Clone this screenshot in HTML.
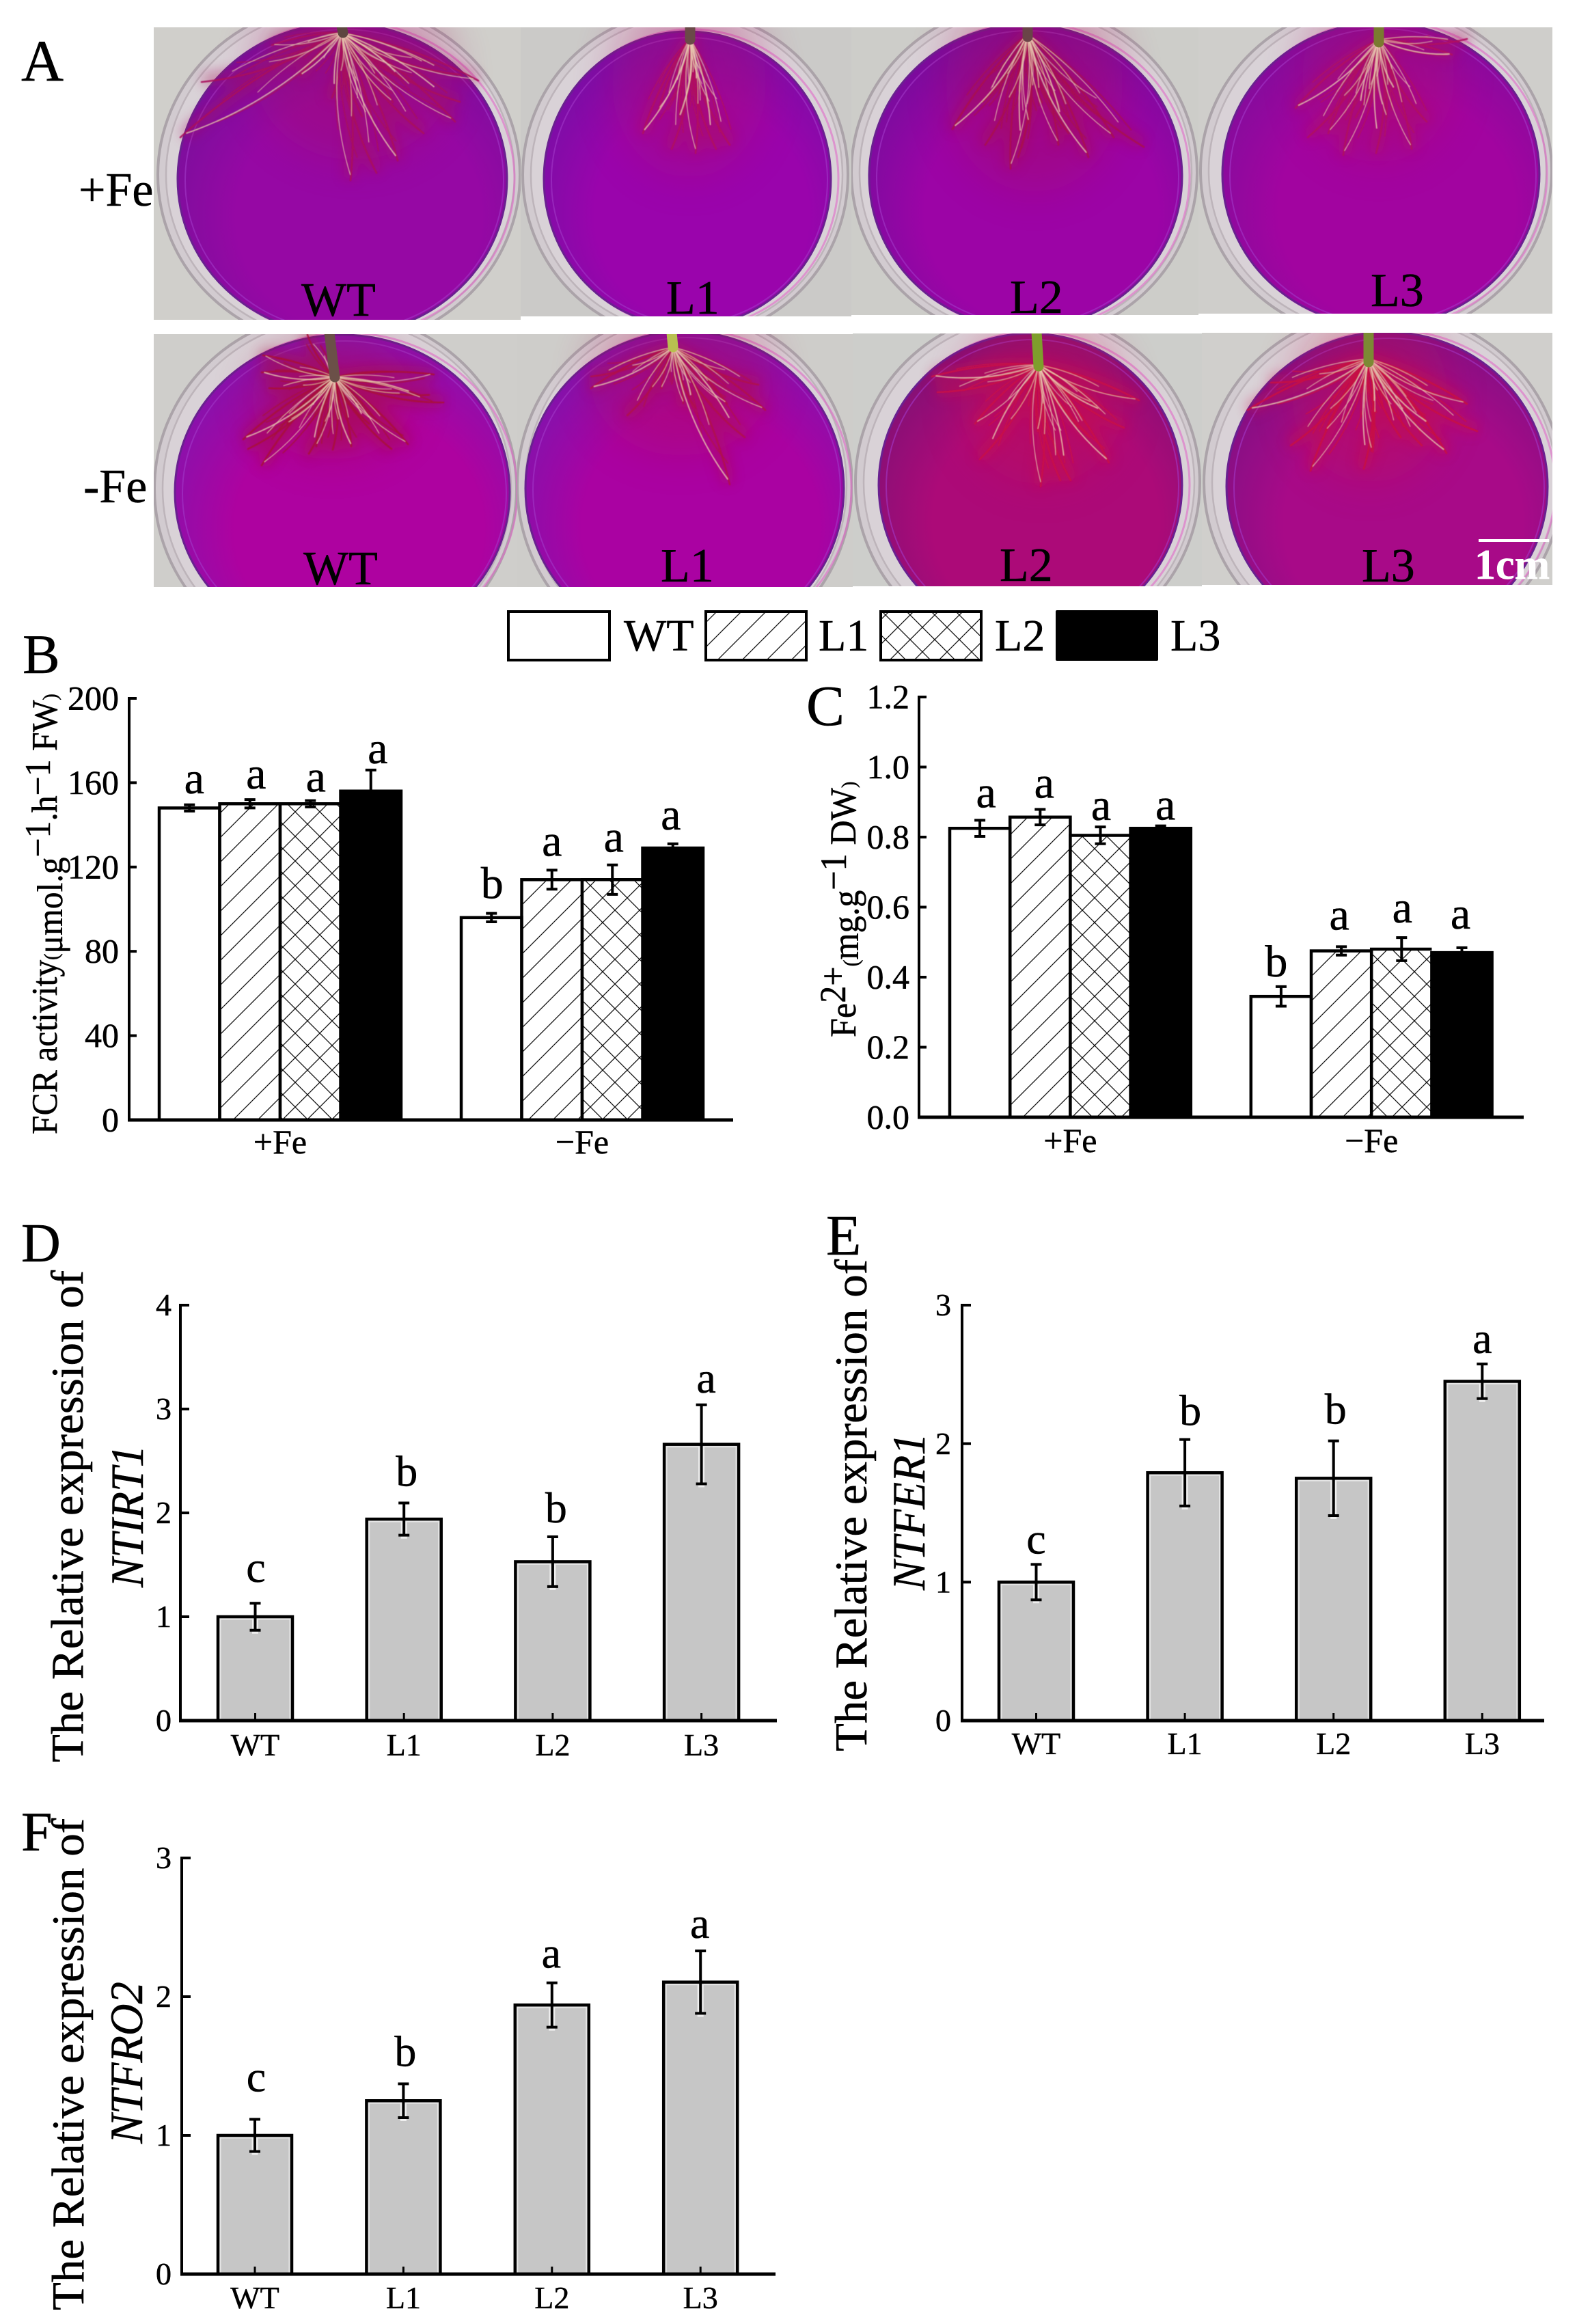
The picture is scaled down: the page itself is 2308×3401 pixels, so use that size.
<!DOCTYPE html>
<html lang="en">
<head>
<meta charset="utf-8">
<title>Root ferric reductase assay and iron gene expression</title>
<style>
html,body{margin:0;padding:0;background:#fff;}
svg{display:block;}
text{font-family:"Liberation Serif",serif;fill:#000;stroke:#000;stroke-width:0.5px;}
</style>
</head>
<body>
<svg id="figure" xmlns="http://www.w3.org/2000/svg" width="2308" height="3401" viewBox="0 0 2308 3401">
  <defs>
    <pattern id="hatch-single" patternUnits="userSpaceOnUse" width="36" height="36">
      <path d="M-4 40 L40 -4 M-4 4 L4 -4 M32 40 L40 32" stroke="#111" stroke-width="1.3" fill="none"/>
    </pattern>
    <pattern id="hatch-cross" patternUnits="userSpaceOnUse" width="36" height="36">
      <rect width="36" height="36" fill="#fff"/>
      <path d="M-4 40 L40 -4 M-4 4 L4 -4 M32 40 L40 32 M-4 -4 L40 40 M-4 32 L4 40 M32 -4 L40 4" stroke="#111" stroke-width="1.3" fill="none"/>
    </pattern>
    <filter id="haze" x="-30%" y="-30%" width="160%" height="160%"><feGaussianBlur stdDeviation="9"/></filter>
    <filter id="glow" x="-50%" y="-50%" width="200%" height="200%"><feGaussianBlur stdDeviation="30"/></filter>
    <filter id="soft" x="-10%" y="-10%" width="120%" height="120%"><feGaussianBlur stdDeviation="0.6"/></filter>
  </defs>

  <rect width="2308" height="3401" fill="#fff"/>
  <g id="photos"></g>

  <g font-size="70">
    <text x="31" y="118" font-size="86">A</text>
    <text x="115" y="301">+Fe</text>
    <text x="122" y="735">-Fe</text>
    <text x="441" y="462">WT</text>
    <text x="975" y="459">L1</text>
    <text x="1478" y="458">L2</text>
    <text x="2006" y="448">L3</text>
    <text x="444" y="855">WT</text>
    <text x="967" y="851">L1</text>
    <text x="1463" y="850">L2</text>
    <text x="1993" y="851">L3</text>
    <rect x="2164" y="789" width="103" height="4" fill="#fff"/>
    <text x="2158" y="847" font-size="62" font-weight="bold" style="fill:#fff;stroke:#fff">1cm</text>
  </g>

  <g font-size="66">
    <rect x="744" y="895" width="148" height="71" fill="#fff" stroke="#000" stroke-width="4"/>
    <text x="913" y="952">WT</text>
    <rect x="1033" y="895" width="147" height="71" fill="url(#hatch-single)" stroke="#000" stroke-width="4"/>
    <text x="1198" y="952">L1</text>
    <rect x="1289" y="895" width="147" height="71" fill="url(#hatch-cross)" stroke="#000" stroke-width="4"/>
    <text x="1456" y="952">L2</text>
    <rect x="1545" y="893" width="150" height="74" rx="2" fill="#000"/>
    <text x="1713" y="952">L3</text>
  </g>

  <g>
    <text x="33" y="985" font-size="82">B</text>
    <text x="1180" y="1061" font-size="84">C</text>
    <text x="31" y="1846" font-size="80">D</text>
    <text x="1209" y="1836" font-size="84">E</text>
    <text x="31" y="2708" font-size="82">F</text>
  </g>

  <g>
    <text transform="translate(83,1660) rotate(-90) scale(0.937,1)" font-size="53">FCR activity<tspan font-size="30" dy="2">(</tspan><tspan dy="6">μmol.g</tspan><tspan dy="-18">−1</tspan><tspan dy="10">.h</tspan><tspan dy="-10">−1</tspan><tspan dy="10"> FW</tspan><tspan font-size="30">)</tspan></text>
    <text transform="translate(1252,1518) rotate(-90) scale(0.93,1)" font-size="54">Fe<tspan dy="-15">2+</tspan><tspan font-size="32" dy="19">(</tspan><tspan>mg.g</tspan><tspan dy="-18">−1</tspan><tspan dy="14"> DW</tspan><tspan font-size="30">)</tspan></text>
    <text transform="translate(121,2579) rotate(-90)" font-size="67">The Relative expression of</text>
    <text transform="translate(209,2323) rotate(-90) scale(0.95,1)" font-size="68" font-style="italic">NTIRT1</text>
    <text transform="translate(1268,2563) rotate(-90)" font-size="67">The Relative expression of</text>
    <text transform="translate(1353,2327) rotate(-90) scale(0.95,1)" font-size="68" font-style="italic">NTFER1</text>
    <text transform="translate(122,3381) rotate(-90)" font-size="67">The Relative expression of</text>
    <text transform="translate(208,3137) rotate(-90) scale(0.95,1)" font-size="68" font-style="italic">NTFRO2</text>
  </g>

  <g id="charts"></g>
</svg>

<script>
/* ---------- chart values ---------- */
const treatmentLabels = ['+Fe', '−Fe'];
const lineLabels = ['WT', 'L1', 'L2', 'L3'];

const fcrTicks = [0, 40, 80, 120, 160, 200];
const fcrTickLabels = ['0', '40', '80', '120', '160', '200'];
const fcrValues = [148, 150, 150, 156, 96, 114, 114, 129];
const fcrErrors = [1.5, 2, 1.5, 10, 2, 4.5, 7, 2];
const fcrLetters = ['a', 'a', 'a', 'a', 'b', 'a', 'a', 'a'];

const ironTicks = [0, 0.2, 0.4, 0.6, 0.8, 1.0, 1.2];
const ironTickLabels = ['0.0', '0.2', '0.4', '0.6', '0.8', '1.0', '1.2'];
const ironValues = [0.825, 0.857, 0.805, 0.825, 0.345, 0.475, 0.48, 0.47];
const ironErrors = [0.023, 0.022, 0.024, 0.007, 0.028, 0.012, 0.033, 0.014];
const ironLetters = ['a', 'a', 'a', 'a', 'b', 'a', 'a', 'a'];

const irtTicks = [0, 1, 2, 3, 4];
const irtTickLabels = ['0', '1', '2', '3', '4'];
const irtValues = [1.0, 1.94, 1.53, 2.66];
const irtErrors = [0.13, 0.155, 0.24, 0.38];
const irtLetters = ['c', 'b', 'b', 'a'];

const ferTicks = [0, 1, 2, 3];
const ferTickLabels = ['0', '1', '2', '3'];
const ferValues = [1.0, 1.79, 1.75, 2.45];
const ferErrors = [0.128, 0.24, 0.27, 0.125];
const ferLetters = ['c', 'b', 'b', 'a'];

const froTicks = [0, 1, 2, 3];
const froTickLabels = ['0', '1', '2', '3'];
const froValues = [1.0, 1.25, 1.94, 2.105];
const froErrors = [0.116, 0.122, 0.16, 0.225];
const froLetters = ['c', 'b', 'a', 'a'];

/* ---------- svg helper ---------- */
const NS = 'http://www.w3.org/2000/svg';
function add(parent, tag, attrs, text) {
  const node = document.createElementNS(NS, tag);
  for (const key in attrs) node.setAttribute(key, attrs[key]);
  if (text !== undefined) node.textContent = text;
  parent.appendChild(node);
  return node;
}
function makeYScale(min, max, yBottom, yTop) {
  return function (v) { return yBottom - (v - min) * (yBottom - yTop) / (max - min); };
}

function drawAxes(g, cfg, ticks, tickLabels, y) {
  const yAxis = add(g, 'line', {x1: cfg.axisX, x2: cfg.axisX, y1: y(ticks[ticks.length - 1]) - 2, y2: cfg.yBottom + 2, stroke: '#000', 'stroke-width': cfg.axisW});
  
  
  const xAxis = add(g, 'line', {x1: cfg.axisX - 2, x2: cfg.axisEnd, y1: cfg.yBottom, y2: cfg.yBottom, stroke: '#000', 'stroke-width': cfg.axisW + 1});
  
  
  ticks.forEach(function (t, i) {
    const tick = add(g, 'line', {x1: cfg.axisX, x2: cfg.axisX + cfg.tickLen, y1: y(t), y2: y(t), stroke: '#000', 'stroke-width': 4});
    
    
    const label = add(g, 'text', {x: cfg.tickLabelX, y: y(t) + cfg.tickFont * 0.33, 'text-anchor': 'end', 'font-size': cfg.tickFont}, tickLabels[i]);
    
    
  });
}

function drawErrorBar(g, cfg, cx, value, err, y, halo, name) {
  if (halo) {
    const glow = add(g, 'line', {x1: cx, x2: cx, y1: y(value) + 4, y2: y(value - err) + 5, stroke: '#efefef', 'stroke-width': 9});
    
    
  }
  const stem = add(g, 'line', {x1: cx, x2: cx, y1: y(value + err), y2: y(value - err), stroke: '#000', 'stroke-width': 4});
  
  
  [value + err, value - err].forEach(function (v) {
    const cap = add(g, 'line', {x1: cx - 8, x2: cx + 8, y1: y(v), y2: y(v), stroke: '#000', 'stroke-width': 4});
    
    
  });
}

function drawLetter(g, cfg, cx, topValue, letter, nudge, y, name) {
  const t = add(g, 'text', {x: cx + nudge[0], y: y(topValue) - nudge[1], 'text-anchor': 'middle', 'font-size': cfg.letterFont}, letter);
  
  
}

/* Grouped (+Fe / -Fe) bars with hatch fills */
function drawGrouped(cfg, values, errors, letters, ticks, tickLabels) {
  const g = add(document.getElementById('charts'), 'g', {});
  
  
  const y = makeYScale(ticks[0], ticks[ticks.length - 1], cfg.yBottom, cfg.yTop);
  const fills = ['#fff', 'url(#hatch-single)', 'url(#hatch-cross)', '#000'];
  const barLeft = function (i) { return cfg.x0 + i * cfg.barW + (i >= lineLabels.length ? cfg.groupGap : 0); };
  values.forEach(function (v, i) {
    const series = i % lineLabels.length;
    const bar = add(g, 'rect', {x: barLeft(i), y: y(v), width: cfg.barW, height: cfg.yBottom - y(v), fill: fills[series], stroke: series === 2 ? 'none' : '#000', 'stroke-width': 4.5});
    
    
    if (series === 2) {
      const edge = add(g, 'path', {d: 'M' + barLeft(i) + ' ' + cfg.yBottom + 'V' + y(v) + 'H' + (barLeft(i) + cfg.barW), fill: 'none', stroke: '#000', 'stroke-width': 4.5});
      
      
    }
  });
  values.forEach(function (v, i) {
    const cx = barLeft(i) + cfg.barW / 2;
    drawErrorBar(g, cfg, cx, v, errors[i], y, false, cfg.name);
    drawLetter(g, cfg, cx, v + errors[i], letters[i], cfg.nudges[i], y, cfg.name);
  });
  drawAxes(g, cfg, ticks, tickLabels, y);
  treatmentLabels.forEach(function (label, gi) {
    const n = lineLabels.length;
    const cx = (barLeft(gi * n) + barLeft(gi * n + n - 1) + cfg.barW) / 2;
    const t = add(g, 'text', {x: cx, y: cfg.catBaseline, 'text-anchor': 'middle', 'font-size': cfg.tickFont}, label);
    
    
  });
}

/* Simple gene expression bars */
function drawGene(cfg, values, errors, letters, ticks, tickLabels) {
  const g = add(document.getElementById('charts'), 'g', {});
  
  
  const y = makeYScale(ticks[0], ticks[ticks.length - 1], cfg.yBottom, cfg.yTop);
  values.forEach(function (v, i) {
    const left = cfg.x0 + i * cfg.step;
    const cx = left + cfg.barW / 2;
    const series = lineLabels[i].toLowerCase();
    const bar = add(g, 'rect', {x: left, y: y(v), width: cfg.barW, height: cfg.yBottom - y(v), fill: '#c6c6c6', stroke: '#000', 'stroke-width': 4.5});
    
    
    const inner = add(g, 'rect', {x: left + 3.5, y: y(v) + 3.5, width: cfg.barW - 7, height: cfg.yBottom - y(v) - 5, fill: 'none', stroke: '#e6e6e6', 'stroke-width': 2});
    
    
    const stub = add(g, 'line', {x1: cx, x2: cx, y1: cfg.yBottom - 11, y2: cfg.yBottom, stroke: '#000', 'stroke-width': 3});
    
    
    drawErrorBar(g, cfg, cx, v, errors[i], y, true, cfg.name);
    drawLetter(g, cfg, cx, v + errors[i], letters[i], cfg.nudges[i], y, cfg.name);
    const label = add(g, 'text', {x: cx, y: cfg.catBaseline, 'text-anchor': 'middle', 'font-size': cfg.catFont}, lineLabels[i]);
    
    
  });
  drawAxes(g, cfg, ticks, tickLabels, y);
}

drawGrouped({name: 'fcr', x0: 233, barW: 88.5, groupGap: 88, axisX: 189, axisEnd: 1073, axisW: 4, tickLen: 11, yBottom: 1639, yTop: 1022, tickLabelX: 174, tickFont: 50, catBaseline: 1688, letterFont: 66,
  nudges: [[7,17],[9,16],[8,13],[10,10],[1,22],[0,21],[2,19],[-3,21]]},
  fcrValues, fcrErrors, fcrLetters, fcrTicks, fcrTickLabels);

drawGrouped({name: 'iron', x0: 1390, barW: 88.2, groupGap: 88, axisX: 1345, axisEnd: 2230, axisW: 4, tickLen: 11, yBottom: 1635, yTop: 1020, tickLabelX: 1331, tickFont: 50, catBaseline: 1686, letterFont: 66,
  nudges: [[9,19],[6,17],[1,10],[7,9],[-7,15],[-3,25],[1,22],[-2,28]]},
  ironValues, ironErrors, ironLetters, ironTicks, ironTickLabels);

drawGene({name: 'ntirt1', x0: 319, step: 217.7, barW: 109, axisX: 264, axisEnd: 1137, axisW: 4, tickLen: 13, yBottom: 2518, yTop: 1910, tickLabelX: 251, tickFont: 46, catFont: 46, catBaseline: 2569, letterFont: 64,
  nudges: [[1,31],[4,25],[5,21],[7,18]]},
  irtValues, irtErrors, irtLetters, irtTicks, irtTickLabels);

drawGene({name: 'ntfer1', x0: 1462, step: 217.6, barW: 109, axisX: 1408, axisEnd: 2260, axisW: 4, tickLen: 13, yBottom: 2518, yTop: 1910, tickLabelX: 1392, tickFont: 46, catFont: 46, catBaseline: 2567, letterFont: 64,
  nudges: [[0,16],[8,21],[3,25],[0,16]]},
  ferValues, ferErrors, ferLetters, ferTicks, ferTickLabels);

drawGene({name: 'ntfro2', x0: 319, step: 217.4, barW: 108, axisX: 266, axisEnd: 1135, axisW: 4, tickLen: 13, yBottom: 3328, yTop: 2719, tickLabelX: 251, tickFont: 46, catFont: 46, catBaseline: 3378, letterFont: 64,
  nudges: [[2,41],[3,26],[-1,22],[-1,19]]},
  froValues, froErrors, froLetters, froTicks, froTickLabels);

/* ---------- photographs drawn as vector approximations ---------- */
const plates = [
  {id:'wt-plus', r:[225,40,537,428], c:[501,262,241,228], o:[496,256,265,252], mid:'#9608a4', edge:'#7a0f9c', bg:'#d0cfcb', stem:[500,38,502,48,'#5e4640'], root:[500,48],
   tips:[[264,201],[295,120],[398,66],[486,143],[513,264],[551,253],[582,235],[620,195],[666,178],[673,149],[700,118],[673,109],[440,110],[530,170],[575,150],[600,120]], red:'#a80c5c'},
  {id:'l1-plus', r:[762,40,484,423], c:[1006,262,210,216], o:[1003,256,238,240], mid:'#9a04ac', edge:'#7b0ea6', bg:'#cbcac8', stem:[1010,38,1010,58,'#6a4a48'], root:[1010,56],
   tips:[[941,195],[983,218],[1018,224],[1048,218],[964,161],[1068,212],[995,172],[1029,172],[1005,140],[1022,130]], red:'#b00c60'},
  {id:'l2-plus', r:[1246,40,508,421], c:[1501,258,229,222], o:[1499,252,253,246], mid:'#9c04a6', edge:'#7a0c9e', bg:'#cdcdc9', stem:[1504,38,1504,54,'#6a4448'], root:[1504,50],
   tips:[[1394,189],[1442,212],[1479,247],[1490,230],[1549,212],[1674,215],[1593,230],[1438,149],[1630,201],[1564,195],[1505,180],[1525,150]], red:'#a80c50'},
  {id:'l3-plus', r:[1754,40,518,419], c:[2021,255,232,222], o:[2014,250,257,246], mid:'#a204a0', edge:'#850c9c', bg:'#cfcecb', stem:[2018,38,2018,62,'#7a7a30'], root:[2018,58],
   tips:[[1896,158],[1914,201],[1966,227],[2014,224],[2066,218],[2088,178],[2125,80],[2147,57],[2029,172],[1984,172],[1944,195],[2000,150],[2040,130]], red:'#b01060'},
  {id:'wt-minus', r:[225,489,532,370], c:[501,720,245,230], o:[491,715,265,258], mid:'#ae02a0', edge:'#8812ac', bg:'#cfcecb', stem:[482,487,490,552,'#6b5048'], root:[490,552],
   tips:[[356,643],[363,657],[383,681],[452,664],[463,653],[487,658],[514,653],[573,657],[597,650],[628,578],[635,548],[649,589],[383,545],[394,568],[420,620],[540,620],[385,520],[450,490]], red:'#a8103c'},
  {id:'l1-minus', r:[757,489,491,370], c:[1002,715,233,230], o:[1002,710,245,255], mid:'#aa02a2', edge:'#8412ac', bg:'#cecdca', stem:[983,487,985,508,'#b8c050'], root:[985,508],
   tips:[[865,568],[865,551],[968,568],[1018,597],[1064,591],[1110,563],[1068,709],[918,608],[1000,590],[1090,640],[1120,600]], red:'#b0104c'},
  {id:'l2-minus', r:[1248,488,511,370], c:[1508,710,222,222], o:[1504,706,252,250], mid:'#ac0a78', edge:'#861076', bg:'#cdcecb', stem:[1517,486,1520,536,'#7e9e2c'], root:[1520,534],
   tips:[[1364,551],[1372,574],[1427,620],[1434,672],[1523,712],[1552,703],[1623,677],[1645,626],[1667,586],[1567,703],[1519,631],[1595,640],[1610,600]], red:'#c80e48'},
  {id:'l3-minus', r:[1759,487,513,369], c:[2030,712,235,226], o:[2024,706,262,252], mid:'#a80a88', edge:'#841084', bg:'#d0cfcc', stem:[2003,485,2003,530,'#7c8a34'], root:[2003,525],
   tips:[[1826,600],[1889,652],[1918,689],[1996,686],[2007,660],[2081,652],[2117,663],[2162,631],[2147,591],[2014,603],[1940,631],[2050,640],[2090,620],[1860,560]], red:'#c80e44'}
];

const photosGroup = document.getElementById('photos');
const svgDefs = document.querySelector('defs');
plates.forEach(function (p) {
  const clip = add(svgDefs, 'clipPath', {id: 'clip-' + p.id});
  add(clip, 'rect', {x: p.r[0], y: p.r[1], width: p.r[2], height: p.r[3]});
  const grad = add(svgDefs, 'radialGradient', {id: 'liquid-' + p.id, cx: '0.55', cy: '0.62', r: '0.62'});
  add(grad, 'stop', {offset: '0', 'stop-color': p.mid});
  add(grad, 'stop', {offset: '0.6', 'stop-color': p.mid});
  add(grad, 'stop', {offset: '1', 'stop-color': p.edge});

  const g = add(photosGroup, 'g', {'clip-path': 'url(#clip-' + p.id + ')'});
  
  

  add(g, 'rect', {x: p.r[0], y: p.r[1], width: p.r[2], height: p.r[3], fill: p.bg});
  add(g, 'ellipse', {cx: p.o[0], cy: p.o[1], rx: p.o[2], ry: p.o[3], fill: '#d2cbd0', stroke: '#aba3a9', 'stroke-width': 4});
  add(g, 'ellipse', {cx: p.o[0] + 2, cy: p.o[1], rx: p.o[2] - 10, ry: p.o[3] - 9, fill: '#d9d2d7', stroke: '#bdb4ba', 'stroke-width': 2.5});
  add(g, 'ellipse', {cx: p.c[0] + 6, cy: p.c[1], rx: p.c[2] + 5, ry: p.c[3] + 3, fill: 'none', stroke: '#e06ac8', 'stroke-width': 3, opacity: 0.6});
  add(g, 'ellipse', {cx: p.c[0], cy: p.c[1], rx: p.c[2], ry: p.c[3], fill: 'url(#liquid-' + p.id + ')', stroke: '#6a2090', 'stroke-width': 3});
  add(g, 'ellipse', {cx: p.c[0] + 3, cy: p.c[1] + 2, rx: p.c[2] - 8, ry: p.c[3] - 7, fill: 'none', stroke: '#a238c8', 'stroke-width': 2, opacity: 0.6});

  const roots = add(g, 'g', {});
  
  
  const ox = p.root[0], oy = p.root[1];
  const curve = function (tip, i, jitter, reach) {
    const tx = ox + (tip[0] - ox) * reach + jitter;
    const ty = oy + (tip[1] - oy) * reach + jitter * 0.4;
    const mx = (ox + tx) / 2, my = (oy + ty) / 2;
    const dx = tx - ox, dy = ty - oy;
    const s = (i % 2 ? 0.12 : -0.08) * (dx < 0 ? -1 : 1);
    return 'M' + ox + ' ' + oy + 'Q' + (mx - dy * s) + ' ' + (my + dx * s) + ' ' + tx + ' ' + ty;
  };
  let cxSum = 0, cySum = 0;
  p.tips.forEach(function (tip) { cxSum += tip[0]; cySum += tip[1]; });
  const meanX = cxSum / p.tips.length, meanY = cySum / p.tips.length;
  add(roots, 'ellipse', {cx: (meanX + ox) / 2, cy: (meanY + oy) / 2, rx: Math.abs(meanX - ox) + 110, ry: (meanY - oy) * 0.7 + 50, fill: p.red, opacity: 0.3, filter: 'url(#glow)'});
  const hazeGroup = add(roots, 'g', {filter: 'url(#haze)', opacity: 0.42});
  const softGroup = add(roots, 'g', {filter: 'url(#soft)'});
  p.tips.forEach(function (tip, i) {
    add(hazeGroup, 'path', {d: curve(tip, i, 0, 0.95), fill: 'none', stroke: p.red, 'stroke-width': 20, 'stroke-linecap': 'round'});
  });
  p.tips.forEach(function (tip, i) {
    add(softGroup, 'path', {d: curve(tip, i, 0, 1), fill: 'none', stroke: p.red, 'stroke-width': 2.6, opacity: 0.9, 'stroke-linecap': 'round'});
    add(softGroup, 'path', {d: curve(tip, i + 1, 12, 0.82), fill: 'none', stroke: p.red, 'stroke-width': 1.8, opacity: 0.8, 'stroke-linecap': 'round'});
    add(softGroup, 'path', {d: curve(tip, i, -14, 0.68), fill: 'none', stroke: p.red, 'stroke-width': 1.6, opacity: 0.8, 'stroke-linecap': 'round'});
  });
  p.tips.forEach(function (tip, i) {
    add(softGroup, 'path', {d: curve(tip, i + 1, 0, i % 2 ? 0.78 : 0.96), fill: 'none', stroke: '#e8cbb0', 'stroke-width': i % 3 === 0 ? 1.9 : 1.2, opacity: 0.8, 'stroke-linecap': 'round'});
    add(softGroup, 'path', {d: curve(tip, i, 7, 0.55), fill: 'none', stroke: '#e8cbb0', 'stroke-width': 1.2, opacity: 0.7, 'stroke-linecap': 'round'});
  });
  const stem = add(g, 'line', {x1: p.stem[0], y1: p.stem[1], x2: p.stem[2], y2: p.stem[3], stroke: p.stem[4], 'stroke-width': 15, 'stroke-linecap': 'round'});
  
  
});
</script>
</body>
</html>
